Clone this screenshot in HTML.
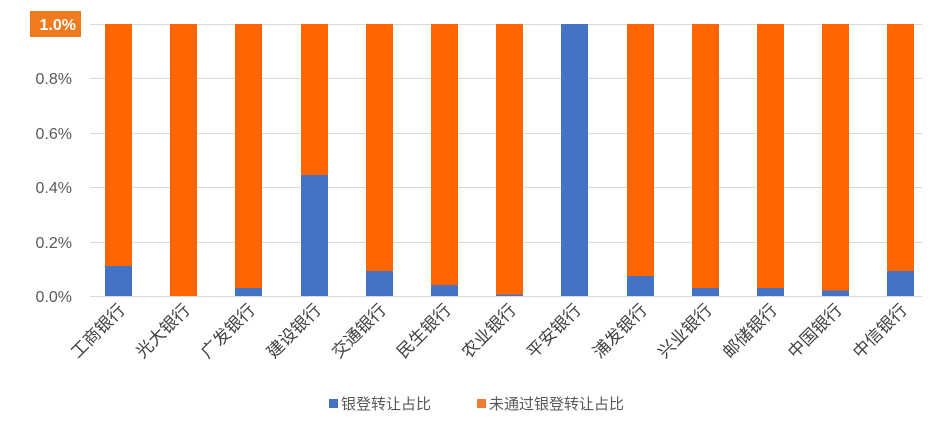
<!DOCTYPE html>
<html><head><meta charset="utf-8"><style>
body{margin:0;background:#fff;}
svg text{font-family:"Liberation Sans","Noto Sans CJK SC",sans-serif;}
</style></head><body>
<svg width="928" height="422" xmlns="http://www.w3.org/2000/svg">
<g stroke="#d9d9d9" stroke-width="1">
<line x1="90" x2="922" y1="24.5" y2="24.5"/>
<line x1="90" x2="922" y1="78.5" y2="78.5"/>
<line x1="90" x2="922" y1="133.5" y2="133.5"/>
<line x1="90" x2="922" y1="187.5" y2="187.5"/>
<line x1="90" x2="922" y1="242.5" y2="242.5"/>
<line x1="90" x2="922" y1="296.5" y2="296.5"/>
</g>
<rect x="30" y="11" width="51" height="26" fill="#f07a1e"/>
<g font-size="16" fill="#595959" text-anchor="end">
<text x="76" y="30" fill="#fff" font-weight="bold">1.0%</text>
<text x="72" y="84">0.8%</text>
<text x="72" y="139">0.6%</text>
<text x="72" y="193">0.4%</text>
<text x="72" y="248">0.2%</text>
<text x="72" y="302">0.0%</text>
</g>
<g fill="#ff6600">
<rect x="105" y="24" width="27" height="272"/>
<rect x="170" y="24" width="27" height="272"/>
<rect x="235" y="24" width="27" height="272"/>
<rect x="301" y="24" width="27" height="272"/>
<rect x="366" y="24" width="27" height="272"/>
<rect x="431" y="24" width="27" height="272"/>
<rect x="496" y="24" width="27" height="272"/>
<rect x="627" y="24" width="27" height="272"/>
<rect x="692" y="24" width="27" height="272"/>
<rect x="757" y="24" width="27" height="272"/>
<rect x="822" y="24" width="27" height="272"/>
<rect x="887" y="24" width="27" height="272"/>
</g>
<g fill="#4472c4">
<rect x="105" y="266" width="27" height="30"/>
<rect x="235" y="288" width="27" height="8"/>
<rect x="301" y="175" width="27" height="121"/>
<rect x="366" y="271" width="27" height="25"/>
<rect x="431" y="285" width="27" height="11"/>
<rect x="496" y="294.5" width="27" height="1.5"/>
<rect x="561" y="24" width="27" height="272"/>
<rect x="627" y="276" width="27" height="20"/>
<rect x="692" y="288" width="27" height="8"/>
<rect x="757" y="288" width="27" height="8"/>
<rect x="822" y="290.5" width="27" height="5.5"/>
<rect x="887" y="271" width="27" height="25"/>
</g>
<g font-size="17" fill="#404040" text-anchor="end">
<text transform="translate(126,311) rotate(-45)">工商银行</text>
<text transform="translate(191,311) rotate(-45)">光大银行</text>
<text transform="translate(256,311) rotate(-45)">广发银行</text>
<text transform="translate(322,311) rotate(-45)">建设银行</text>
<text transform="translate(387,311) rotate(-45)">交通银行</text>
<text transform="translate(452,311) rotate(-45)">民生银行</text>
<text transform="translate(517,311) rotate(-45)">农业银行</text>
<text transform="translate(582,311) rotate(-45)">平安银行</text>
<text transform="translate(648,311) rotate(-45)">浦发银行</text>
<text transform="translate(713,311) rotate(-45)">兴业银行</text>
<text transform="translate(778,311) rotate(-45)">邮储银行</text>
<text transform="translate(843,311) rotate(-45)">中国银行</text>
<text transform="translate(908,311) rotate(-45)">中信银行</text>
</g>
<rect x="329" y="399" width="9" height="9" fill="#4472c4"/>
<text x="341" y="409" font-size="15" fill="#595959">银登转让占比</text>
<rect x="477" y="399" width="9" height="9" fill="#ed7d31"/>
<text x="489" y="409" font-size="15" fill="#595959">未通过银登转让占比</text>
</svg>
</body></html>
